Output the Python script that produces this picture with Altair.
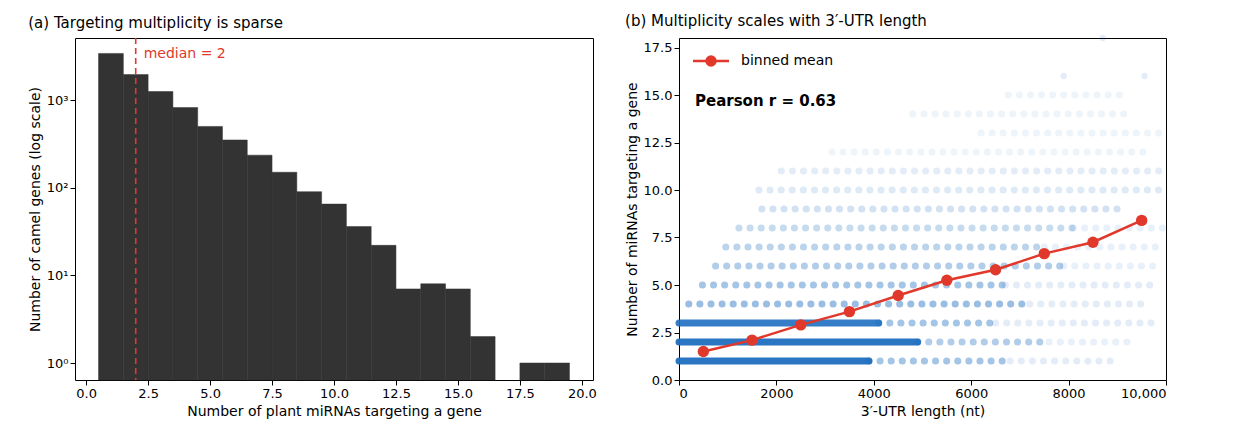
import altair as alt
import pandas as pd

# (a) histogram: count of genes per number of targeting miRNAs
hist_n = list(range(1, 20))
hist_count = [3400, 1950, 1250, 820, 500, 350, 235, 150, 90, 65, 36, 22, 7, 8, 7, 2, 0, 1, 1]
median_n = 2

# (b) scatter, summarised as runs of points along each integer level
run_y =     [1, 1, 1, 2, 2, 2, 3, 3, 3, 4, 4, 5, 5, 6, 6, 7, 7, 8, 8, 9, 10, 11, 12, 13, 14, 15]
run_x0 =    [0, 3900, 6800, 0, 4900, 7600, 0, 4100, 6500, 200, 7200, 480, 6700, 750, 7900, 960, 7500, 1230, 8100, 1700, 1640, 2100, 3140, 6200, 4800, 6760]
run_x1 =    [3900, 6800, 9000, 4900, 7600, 9200, 4100, 6500, 9800, 7200, 9500, 6700, 9800, 7900, 9850, 7500, 9900, 8100, 9950, 9000, 9900, 9900, 9700, 9950, 9200, 9100]
run_alpha = [0.95, 0.4, 0.12, 0.95, 0.35, 0.1, 0.9, 0.4, 0.12, 0.45, 0.12, 0.4, 0.12, 0.35, 0.1, 0.3, 0.1, 0.25, 0.1, 0.2, 0.15, 0.12, 0.08, 0.08, 0.08, 0.08]
run_dense = [1, 0, 0, 1, 0, 0, 1, 0, 0, 0, 0, 0, 0, 0, 0, 0, 0, 0, 0, 0, 0, 0, 0, 0, 0, 0]

lone_x = [7900, 9560, 8700]
lone_y = [16, 16, 18]

bin_x = [500, 1500, 2500, 3500, 4500, 5500, 6500, 7500, 8500, 9500]
bin_mean = [1.5, 2.1, 2.9, 3.6, 4.45, 5.25, 5.8, 6.65, 7.25, 8.4]

FONT = "DejaVu Sans"
RED = "#e0392b"
BLUE = "#1f6fc0"

hist = pd.DataFrame({"n": hist_n, "count": hist_count})
hist = hist[hist["count"] > 0]
hist["x0"] = hist["n"] - 0.5
hist["x1"] = hist["n"] + 0.5

xa = alt.Scale(domain=[-0.45, 20.45], nice=False, zero=False)
ya = alt.Scale(type="log", domain=[0.64, 5100], nice=False)

bars = alt.Chart(hist).mark_rect(color="#333333", stroke="#333333", strokeWidth=0.5).encode(
    x=alt.X("x0:Q", scale=xa, title="Number of plant miRNAs targeting a gene",
            axis=alt.Axis(values=[0, 2.5, 5, 7.5, 10, 12.5, 15, 17.5, 20], format=".1f", grid=False)),
    x2="x1:Q",
    y=alt.Y("count:Q", scale=ya, title="Number of camel genes (log scale)",
            axis=alt.Axis(values=[1, 10, 100, 1000], grid=False,
                          labelExpr="datum.value == 1 ? '10⁰' : datum.value == 10 ? '10¹' : datum.value == 100 ? '10²' : '10³'")),
    y2=alt.value(342),
)
med = pd.DataFrame({"m": [median_n], "label": ["median = %d" % median_n]})
med_rule = alt.Chart(med).mark_rule(color=RED, strokeDash=[6, 4], strokeWidth=1.6).encode(
    x=alt.X("m:Q", scale=xa))
med_text = alt.Chart(med).mark_text(color=RED, align="left", dx=8, fontSize=14, font=FONT).encode(
    x=alt.X("m:Q", scale=xa), y=alt.value(16), text="label:N")

left = (bars + med_rule + med_text).properties(
    width=518, height=342,
    title=alt.TitleParams("(a) Targeting multiplicity is sparse", anchor="start", fontSize=15,
                          fontWeight="normal", font=FONT, offset=6))

runs = pd.DataFrame({"y": run_y, "x0": run_x0, "x1": run_x1, "a": run_alpha, "dense": run_dense})
xb = alt.Scale(domain=[0, 10000], nice=False)
yb = alt.Scale(domain=[0, 18], nice=False)

dense = alt.Chart(runs[runs["dense"] == 1]).mark_rule(color=BLUE, strokeWidth=7, strokeCap="round").encode(
    x=alt.X("x0:Q", scale=xb), x2="x1:Q", y=alt.Y("y:Q", scale=yb),
    opacity=alt.Opacity("a:Q", scale=None, legend=None))
sparse = alt.Chart(runs[runs["dense"] == 0]).mark_rule(color=BLUE, strokeWidth=7, strokeCap="round",
                                                        strokeDash=[0.1, 11]).encode(
    x=alt.X("x0:Q", scale=xb), x2="x1:Q", y=alt.Y("y:Q", scale=yb),
    opacity=alt.Opacity("a:Q", scale=None, legend=None))
lone = alt.Chart(pd.DataFrame({"x": lone_x, "y": lone_y})).mark_circle(color=BLUE, opacity=0.12, size=40).encode(
    x=alt.X("x:Q", scale=xb), y=alt.Y("y:Q", scale=yb))

bm = pd.DataFrame({"x": bin_x, "m": bin_mean})
line = alt.Chart(bm).mark_line(color=RED, strokeWidth=2.5, point=alt.OverlayMarkDef(color=RED, size=130, opacity=1)).encode(
    x=alt.X("x:Q", scale=xb, title="3′-UTR length (nt)",
            axis=alt.Axis(values=[0, 2000, 4000, 6000, 8000, 10000], grid=False,
                          labelExpr="datum.value == 10000 ? '10,000' : datum.value + ''")),
    y=alt.Y("m:Q", scale=yb, title="Number of miRNAs targeting a gene",
            axis=alt.Axis(values=[0, 2.5, 5, 7.5, 10, 12.5, 15, 17.5], format=".1f", grid=False)),
)

# in-panel legend
leg_df = pd.DataFrame({"t": ["binned mean"]})
leg_line = alt.Chart(leg_df).mark_rule(color=RED, strokeWidth=2.5).encode(
    x=alt.value(14), x2=alt.value(50), y=alt.value(23))
leg_dot = alt.Chart(leg_df).mark_circle(color=RED, size=130, opacity=1).encode(
    x=alt.value(32), y=alt.value(23))
leg_text = alt.Chart(leg_df).mark_text(align="left", baseline="middle", fontSize=14, font=FONT).encode(
    x=alt.value(62), y=alt.value(23), text="t:N")
pear = alt.Chart(pd.DataFrame({"t": ["Pearson r = 0.63"]})).mark_text(
    align="left", baseline="middle", fontSize=15, fontWeight="bold", font=FONT).encode(
    x=alt.value(16), y=alt.value(63), text="t:N")

right = (dense + sparse + lone + line + leg_line + leg_dot + leg_text + pear).properties(
    width=487, height=342,
    title=alt.TitleParams("(b) Multiplicity scales with 3′-UTR length", anchor="start", fontSize=15,
                          fontWeight="normal", font=FONT, offset=6))

chart = alt.hconcat(left, right, spacing=27).properties(
    padding={"left": 19, "top": 5, "right": 5, "bottom": 5}
).configure_view(stroke="black", strokeWidth=1).configure_axis(
    labelFont=FONT, titleFont=FONT, labelFontSize=13, titleFontSize=14, titleFontWeight="normal",
    domain=False, tickColor="black", labelColor="black", titleColor="black")

chart.save("out.html", embed_options={"renderer": "svg", "actions": False})
